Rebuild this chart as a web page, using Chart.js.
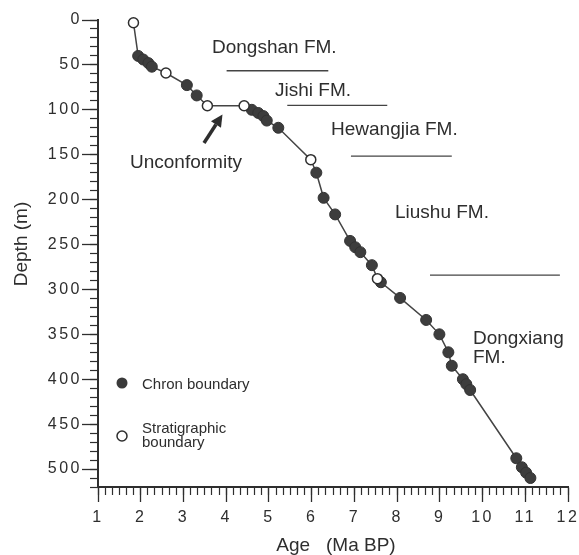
<!DOCTYPE html>
<html>
<head>
<meta charset="utf-8">
<script src="https://cdn.jsdelivr.net/npm/chart.js@4.4.1/dist/chart.umd.min.js"></script>
<style>
  html, body { margin: 0; padding: 0; background: #fff; }
  #wrap { width: 579px; height: 555px; position: relative; }
</style>
</head>
<body>
<div id="wrap"><canvas id="ageChart"></canvas></div>
<script>
// chron boundaries (filled dots), age in Ma and depth in m
const chronAge = [1.94, 2.06, 2.18, 2.26, 3.08, 3.31, 4.60, 4.75, 4.87, 4.95, 5.22,
  6.11, 6.28, 6.55, 6.90, 7.02, 7.14, 7.41, 7.62, 8.07, 8.68, 8.99, 9.20, 9.28,
  9.54, 9.62, 9.71, 10.79, 10.92, 11.02, 11.12];
const chronDepth = [40, 44, 48, 52, 72.5, 84, 100, 103.5, 107, 112, 120,
  170, 198, 216.5, 246, 253, 258.5, 273, 292, 309.5, 334, 350, 370, 385,
  400, 405.5, 412, 488, 498, 504, 510];

// stratigraphic boundaries (open dots)
const stratAge = [1.83, 2.59, 3.56, 4.42, 5.98, 7.54];
const stratDepth = [3, 59, 95.5, 95.5, 155.5, 288];

// formation boundary bars
const fmDepth = [56.5, 95, 151.5, 284];
const fmFrom = [4.01, 5.43, 6.92, 8.77];
const fmTo = [6.39, 7.77, 9.28, 11.81];

const ageTicks = [1, 2, 3, 4, 5, 6, 7, 8, 9, 10, 11, 12];
const depthTicks = [0, 50, 100, 150, 200, 250, 300, 350, 400, 450, 500];

const ink = '#2e2e2e';
Chart.defaults.font.family = '"Liberation Sans", Arial, sans-serif';
Chart.defaults.color = ink;

// age model line runs through every dot in age order
const allPts = chronAge.map((a, i) => ({x: a, y: chronDepth[i]}))
  .concat(stratAge.map((a, i) => ({x: a, y: stratDepth[i]})))
  .sort((p, q) => p.x - q.x);

const fmSets = fmDepth.map((d, i) => ({
  type: 'line',
  data: [{x: fmFrom[i], y: d}, {x: fmTo[i], y: d}],
  borderColor: '#444',
  borderWidth: 1.3,
  pointRadius: 0,
  order: 5
}));

function noPad(scale) {
  scale.paddingLeft = 0; scale.paddingRight = 0;
  scale.paddingTop = 0; scale.paddingBottom = 0;
}

const notes = {
  id: 'notes',
  beforeDraw(chart) { chart.ctx.letterSpacing = '2.5px'; },
  afterDraw(chart) {
    const ctx = chart.ctx;
    ctx.save();
    ctx.letterSpacing = '0px';
    ctx.fillStyle = ink;
    ctx.strokeStyle = ink;
    ctx.textBaseline = 'alphabetic';
    ctx.textAlign = 'left';
    ctx.font = '19px "Liberation Sans", Arial, sans-serif';
    ctx.fillText('Dongshan FM.', 212, 53);
    ctx.fillText('Jishi FM.', 275, 96);
    ctx.fillText('Hewangjia FM.', 331, 135);
    ctx.fillText('Liushu FM.', 395, 218);
    ctx.fillText('Dongxiang', 473, 344);
    ctx.fillText('FM.', 473, 363);
    ctx.fillText('Unconformity', 130, 168);

    // arrow pointing to the hiatus
    const tail = [204, 143], tip = [222.5, 114.5];
    const ang = Math.atan2(tip[1] - tail[1], tip[0] - tail[0]);
    const hl = 12, hw = 6;
    const bx = tip[0] - hl * Math.cos(ang), by = tip[1] - hl * Math.sin(ang);
    ctx.lineWidth = 3.5;
    ctx.beginPath(); ctx.moveTo(tail[0], tail[1]); ctx.lineTo(bx, by); ctx.stroke();
    ctx.beginPath();
    ctx.moveTo(tip[0], tip[1]);
    ctx.lineTo(bx + hw * Math.sin(ang), by - hw * Math.cos(ang));
    ctx.lineTo(bx - hw * Math.sin(ang), by + hw * Math.cos(ang));
    ctx.closePath(); ctx.fill();

    // legend
    ctx.lineWidth = 1.5;
    ctx.fillStyle = '#3a3a3a';
    ctx.beginPath(); ctx.arc(122, 383, 5.5, 0, Math.PI * 2); ctx.fill();
    ctx.fillStyle = '#fff';
    ctx.beginPath(); ctx.arc(122, 436, 5, 0, Math.PI * 2); ctx.fill(); ctx.stroke();
    ctx.fillStyle = ink;
    ctx.font = '15px "Liberation Sans", Arial, sans-serif';
    ctx.fillText('Chron boundary', 142, 389);
    ctx.fillText('Stratigraphic', 142, 433);
    ctx.fillText('boundary', 142, 447);

    // axis titles
    ctx.font = '19px "Liberation Sans", Arial, sans-serif';
    ctx.textAlign = 'center';
    ctx.textBaseline = 'middle';
    ctx.fillText('Age   (Ma BP)', 336, 546);
    ctx.translate(22, 244);
    ctx.rotate(-Math.PI / 2);
    ctx.fillText('Depth (m)', 0, 0);
    ctx.restore();
  }
};

new Chart(document.getElementById('ageChart'), {
  type: 'scatter',
  data: {
    datasets: [{
      label: 'Stratigraphic boundary',
      data: stratAge.map((a, i) => ({x: a, y: stratDepth[i]})),
      pointRadius: 5,
      pointBackgroundColor: '#fff',
      pointBorderColor: ink,
      pointBorderWidth: 1.5,
      clip: false,
      order: 1
    }, {
      label: 'Chron boundary',
      data: chronAge.map((a, i) => ({x: a, y: chronDepth[i]})),
      pointRadius: 5.5,
      pointBackgroundColor: '#3d3d3d',
      pointBorderColor: '#333',
      pointBorderWidth: 1,
      clip: false,
      order: 2
    }, {
      type: 'line',
      data: allPts,
      borderColor: '#444',
      borderWidth: 1.5,
      pointRadius: 0,
      tension: 0,
      clip: false,
      order: 3
    }].concat(fmSets)
  },
  options: {
    responsive: true,
    maintainAspectRatio: false,
    animation: false,
    layout: { padding: { left: 0, right: 11, top: 20, bottom: 0 } },
    plugins: { legend: { display: false }, tooltip: { enabled: false } },
    scales: {
      x: {
        type: 'linear', position: 'bottom', min: 1, max: 12, weight: 1,
        afterBuildTicks: s => { s.ticks = ageTicks.map(v => ({value: v})); },
        afterFit: s => { s.height = 68; noPad(s); },
        ticks: { font: { size: 16 }, padding: 6, autoSkip: false, maxRotation: 0 },
        grid: { drawOnChartArea: false, drawTicks: true, tickLength: 15, tickColor: ink, tickWidth: 1.3 },
        border: { display: true, color: ink, width: 2 }
      },
      xMinor: {
        type: 'linear', position: 'bottom', min: 1, max: 12, weight: 0,
        afterFit: s => { s.height = 0; noPad(s); },
        ticks: { display: false, stepSize: 1 / 6, autoSkip: false },
        grid: { drawOnChartArea: false, drawTicks: true, tickLength: 8, tickColor: ink, tickWidth: 1.2 },
        border: { display: false }
      },
      y: {
        type: 'linear', position: 'left', min: 0, max: 520, reverse: true, weight: 1,
        afterBuildTicks: s => { s.ticks = depthTicks.map(v => ({value: v})); },
        afterFit: s => { s.width = 98; noPad(s); },
        ticks: { font: { size: 16 }, padding: 0, autoSkip: false },
        grid: { drawOnChartArea: false, drawTicks: true, tickLength: 16, tickColor: ink, tickWidth: 1.3 },
        border: { display: true, color: ink, width: 2 }
      },
      yMinor: {
        type: 'linear', position: 'left', min: 0, max: 520, reverse: true, weight: 0,
        afterFit: s => { s.width = 0; noPad(s); },
        ticks: { display: false, stepSize: 10, autoSkip: false, includeBounds: false },
        grid: { drawOnChartArea: false, drawTicks: true, tickLength: 8, tickColor: ink, tickWidth: 1.2 },
        border: { display: false }
      }
    }
  },
  plugins: [notes]
});
</script>
</body>
</html>
